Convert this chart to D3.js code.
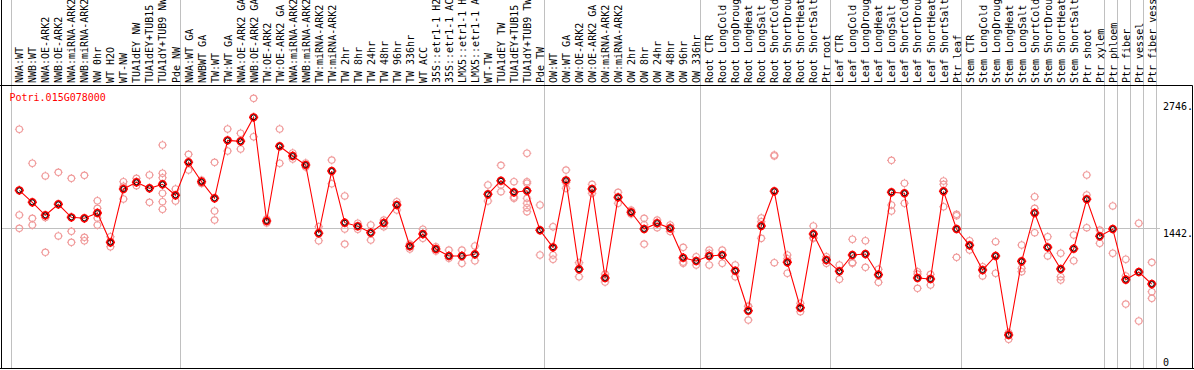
<!DOCTYPE html>
<html><head><meta charset="utf-8">
<script src="https://cdn.jsdelivr.net/npm/d3@7"></script>
<style>
html,body{margin:0;padding:0;background:#fff;}
svg{display:block;}
text{font-family:"DejaVu Sans Mono",monospace;font-size:10px;}
</style></head>
<body>
<svg id="chart" width="1194" height="370"></svg>
<script>
const categories = ["NWA:WT","NWB:WT","NWA:OE-ARK2","NWB:OE-ARK2","NWA:miRNA-ARK2","NWB:miRNA-ARK2","NW 0hr","WT H2O","WT-NW","TUA1dEY NW","TUA1dEY+TUB15","TUA1dY+TUB9 NW","Pde NW",
"NWA:WT GA","NWBWT GA","TW:WT","TW:WT GA","NWA:OE-ARK2 GA","NWB:OE-ARK2 GA","TW:OE-ARK2","TW:OE-ARK2 GA","NWA:miRNA-ARK2","NWB:miRNA-ARK2","TW:miRNA-ARK2","TW:miRNA-ARK2","TW 2hr","TW 8hr","TW 24hr","TW 48hr","TW 96hr","TW 336hr","WT ACC","35S::etr1-1 H2","35S::etr1-1 AC","LMX5::etr1-1 H","LMX5::etr1-1 A","WT-TW","TUA1dEY TW","TUA1dEY+TUB15","TUA1dY+TUB9 TW","Pde TW",
"OW:WT","OW:WT GA","OW:OE-ARK2","OW:OE-ARK2 GA","OW:miRNA-ARK2","OW:miRNA-ARK2","OW 2hr","OW 8hr","OW 24hr","OW 48hr","OW 96hr","OW 336hr",
"Root CTR","Root LongCold","Root LongDroug","Root LongHeat","Root LongSalt","Root ShortCold","Root ShortDrou","Root ShortHeat","Root ShortSalt","Ptr root",
"Leaf CTR","Leaf LongCold","Leaf LongDroug","Leaf LongHeat","Leaf LongSalt","Leaf ShortCold","Leaf ShortDrou","Leaf ShortHeat","Leaf ShortSalt","Ptr leaf",
"Stem CTR","Stem LongCold","Stem LongDroug","Stem LongHeat","Stem LongSalt","Stem ShortCold","Stem ShortDrou","Stem ShortHeat","Stem ShortSalt","Ptr shoot","Ptr xylem",
"Ptr phloem","Ptr fiber","Ptr vessel","Ptr fiber vess"];

const meanValues = [1833,1710,1576,1689,1555,1545,1600,1298,1847,1916,1854,1895,1782,
2122,1922,1751,2348,2338,2585,1517,2287,2187,2094,1391,2032,1500,1463,1397,1497,1682,1257,1383,1229,1157,1157,1174,1792,1932,1813,1829,1422,
1246,1936,1020,1847,930,1761,1607,1435,1495,1443,1139,1105,
1157,1167,1005,593,1466,1823,1092,624,1383,1115,
999,1167,1177,964,1813,1803,930,920,1823,1435,
1267,1012,1157,343,1102,1600,1246,1023,1232,1741,1360,
1435,913,992,868];

const replicateValues = [
[2462,1579,1442],[2112,1545,1476],[1981,1552,1195],[2019,1363],[1957,1411,1298],[1988,1349,1314],[1726,1648,1548,1476],[1355,1291,1252],[1922,1875,1744],[1957,1922,1881],[1991,1857,1710],[2300,2009,1963,1803,1716,1638],[1847,1723],
[2204,2042],[1939,1904],[2122,1620,1527],[2465,2238],[2421,2259],[2781,2385],[1538,1497],[2465,2112],[2218,2156],[2115,2073],[1458,1314],[2145,1901],[1775,1435,1280],[1494,1432],[1476,1321],[1527,1458],[1716,1630],[1280,1229],[1432,1339],[1252,1208],[1218,1133],[1218,1082],[1260,1108],[1888,1723],[2091,1888,1819],[1922,1764,1751],[2215,1922,1906,1751,1700,1654,1613],[1682,1424,1167],
[1458,1167,1123],[2042,1913,1854],[1088,943],[1895,1803],[971,889],[1813,1700],[1630,1589],[1545,1479,1280],[1527,1448],[1476,1408],[1246,1095,1082],[1149,1064],
[1218,1185,1064],[1218,1082],[1064,943],[642,636,497],[1548,1510,1339],[2197,2187,1088],[1167,1129,979],[670,583],[1466,1345,1339],[1149,1082],
[1064,917],[1329,1091,1082],[1314,1040],[1020,886],[2142,1682,1620],[1906,1700],[995,971,824],[968,858],[1929,1895,1664],[1586,1572,1143],
[1314,1218],[1046,951],[1304,979],[367,299],[1270,1030,995],[1767,1648,1397],[1355,1157],[1185,943,909],[1373,1108],[1991,1785,1448],[1424,1288],
[1672,1185],[1123,951,662],[1494,487],[1092,789,721]];

const groupEnds = [12,40,52,62,72,83,84,85,86,87];
const yTickValues = [2746,1442,0];
const yTickLabels = ["2746.","1442.","0"];
const geneName = "Potri.015G078000";

const svg = d3.select("#chart");
const W = 1194, H = 370;
const plotTop = 85.5, plotBottom = 368.5, plotLeft = 1.5, plotRight = 1192.5;

const x = d3.scalePoint().domain(d3.range(categories.length)).range([19.3, 1151.8]);
const y = d3.scaleLinear().domain([0, 2746]).range([368.3, 101.7]);

svg.append("rect").attr("width",W).attr("height",H).attr("fill","#fff");

// vertical separators
const sepX = [x(0) - 8.6].concat(groupEnds.map(i => x(i) + 4));
svg.append("g").selectAll("line").data(sepX).join("line")
  .attr("x1", d => Math.round(d) + 0.5).attr("x2", d => Math.round(d) + 0.5)
  .attr("y1", 0).attr("y2", plotBottom)
  .attr("stroke", "#c0c0c0").attr("stroke-width", 1);

// horizontal gridline at middle tick
svg.append("line")
  .attr("x1", plotLeft).attr("x2", 1160)
  .attr("y1", Math.round(y(1442)) + 0.5).attr("y2", Math.round(y(1442)) + 0.5)
  .attr("stroke", "#c0c0c0").attr("stroke-width", 1);

// header labels
svg.append("g").selectAll("text").data(categories).join("text")
  .attr("transform", (d, i) => `translate(${x(i) + 4},83) rotate(-90)`)
  .attr("text-anchor", "start")
  .attr("fill", "#000")
  .text(d => d);

// frame
svg.append("line").attr("x1",0).attr("x2",plotRight).attr("y1",plotTop).attr("y2",plotTop).attr("stroke","#000");
svg.append("line").attr("x1",plotLeft).attr("x2",plotLeft).attr("y1",0).attr("y2",plotBottom).attr("stroke","#000");
svg.append("line").attr("x1",0).attr("x2",W).attr("y1",plotBottom).attr("y2",plotBottom).attr("stroke","#000");
svg.append("line").attr("x1",plotRight).attr("x2",plotRight).attr("y1",plotTop).attr("y2",plotBottom).attr("stroke","#000");

// y tick labels
svg.append("g").selectAll("text").data(yTickValues).join("text")
  .attr("x", 1163).attr("y", d => Math.min(y(d) + 8.7, 366))
  .attr("fill", "#000")
  .text((d, i) => yTickLabels[i]);

// title
svg.append("text").attr("x", 9.5).attr("y", 101).attr("fill", "#ff0000").text(geneName);

// marker path: ring with small ticks
function marker(r, t) {
  return `M${-r},0a${r},${r} 0 1,0 ${2*r},0a${r},${r} 0 1,0 ${-2*r},0` +
    `M0,${-r}V${-r-t}M0,${r}V${r+t}M${-r},0H${-r-t}M${r},0H${r+t}`;
}

// replicates
const reps = [];
replicateValues.forEach((arr, i) => arr.forEach(v => reps.push({i, v})));
svg.append("g").selectAll("path").data(reps).join("path")
  .attr("transform", d => `translate(${x(d.i)},${y(d.v)})`)
  .attr("d", marker(3.2, 1.2))
  .attr("fill", "none").attr("stroke", "#f09a9a").attr("stroke-width", 1.1);

// mean line
const line = d3.line().x((d, i) => x(i)).y(d => y(d));
svg.append("path").datum(meanValues).attr("d", line)
  .attr("fill", "none").attr("stroke", "#ff0000").attr("stroke-width", 1.1);

// mean markers
const mg = svg.append("g").selectAll("g").data(meanValues).join("g")
  .attr("transform", (d, i) => `translate(${x(i)},${y(d)})`);
mg.append("path")
  .attr("d", marker(3.4, 1.2))
  .attr("fill", "none").attr("stroke", "#ff0000").attr("stroke-width", 1.6);
mg.append("circle").attr("r", 2.4)
  .attr("fill", "none").attr("stroke", "#000").attr("stroke-width", 0.9);
</script>
</body></html>
